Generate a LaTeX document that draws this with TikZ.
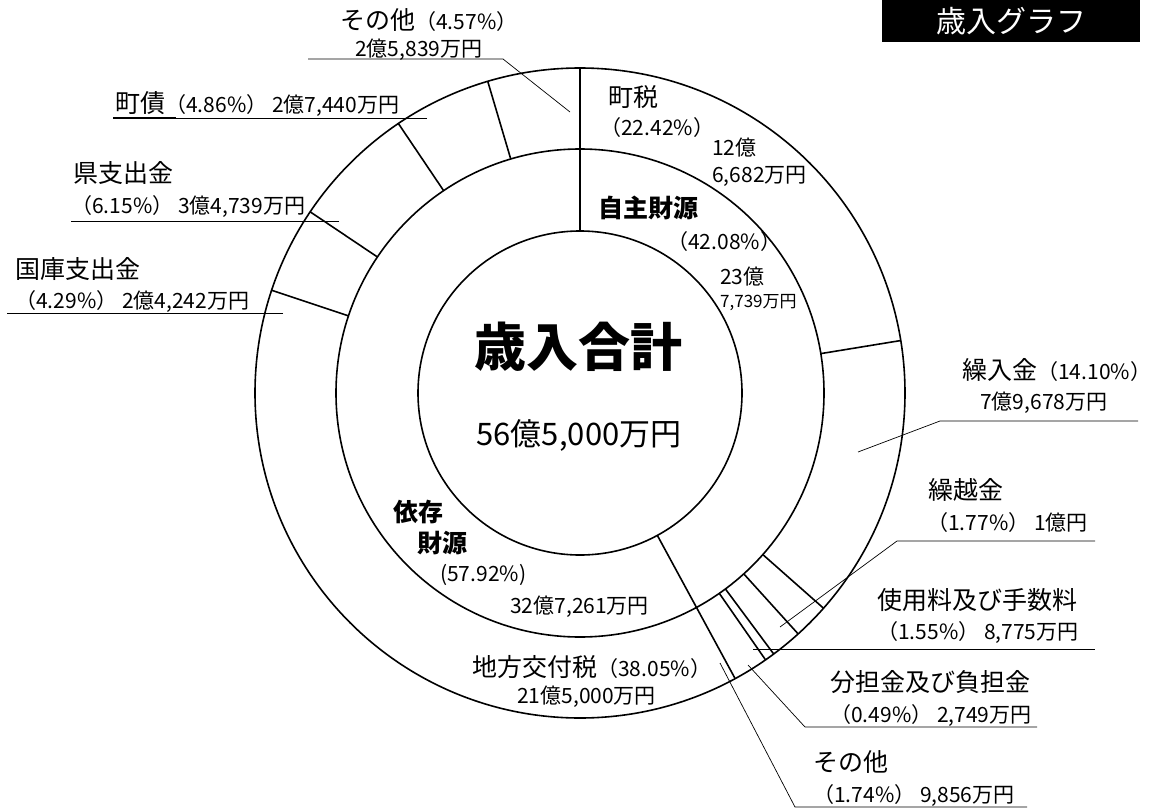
\documentclass[tikz,border=0pt]{standalone}
\usepackage{fontspec}
\setmainfont{Noto Sans CJK JP}
\tikzset{
  ring/.style={line width=1.6pt},
  lead/.style={line width=0.7pt},
  lbl/.style={anchor=west,inner sep=0pt,font=\fontsize{25}{29}\selectfont},
  num/.style={anchor=west,inner sep=0pt,font=\fontsize{21}{25}\selectfont},
}
\begin{document}
\begin{tikzpicture}[x=1pt,y=-1pt]
  \useasboundingbox (0,0) rectangle (1149,811);
  \begin{scope}[shift={(580,393)}]
    \draw[ring] (0,0) circle [radius=162];
    \draw[ring] (0,0) circle [radius=244];
    \draw[ring] (0,0) circle [radius=325];
    \draw[ring] (-90:162)--(-90:325);
    \draw[ring] (61.49:162)--(61.49:325);
    \draw[ring] (-9.29:244)--(-9.29:325);
    \draw[ring] (41.47:244)--(41.47:325);
    \draw[ring] (47.84:244)--(47.84:325);
    \draw[ring] (53.42:244)--(53.42:325);
    \draw[ring] (55.19:244)--(55.19:325);
    \draw[ring] (198.43:244)--(198.43:325);
    \draw[ring] (213.88:244)--(213.88:325);
    \draw[ring] (236.02:244)--(236.02:325);
    \draw[ring] (253.51:244)--(253.51:325);
  \end{scope}
  \node (total) at (578,347) {\fontsize{52}{56}\selectfont\bfseries 歳入合計};
  \node (totalyen) at (579,435) {\fontsize{31}{35}\selectfont 56億5,000万円};
  % title
  \fill (882,-5) rectangle (1140,42);
  \node[text=white] (title) at (1011,21) {\fontsize{30}{34}\selectfont 歳入グラフ};
  % inner ring
  \node[lbl] (jishu) at (598,208) {\bfseries 自主財源};
  \node[num] (jishup) at (667,242) {（42.08\%）};
  \node[num] (jishua) at (720,277) {23億};
  \node[num,font=\fontsize{17}{20}\selectfont] (jishub) at (720,303) {7,739万円};
  \node[lbl] (izon) at (393,512) {\bfseries 依存};
  \node[lbl] (izonb) at (417,543) {\bfseries 財源};
  \node[num] (izonp) at (440,575) {(57.92\%)};
  \node[num] (izona) at (510,607) {32億7,261万円};
  % outer ring
  \node[lbl] (chozei) at (608,97) {町税};
  \node[num] (chozeip) at (600,128) {（22.42\%）};
  \node[num] (chozeia) at (712,148) {12億};
  \node[num] (chozeib) at (712,176) {6,682万円};
  \node[lbl] (koufu) at (472,667) {地方交付税\fontsize{21}{25}\selectfont（38.05\%）};
  \node[num] (koufua) at (517,697) {21億5,000万円};
  \node[lbl] (kuri) at (962,370) {繰入金\fontsize{21}{25}\selectfont（14.10\%）};
  \node[num] (kuria) at (980,403) {7億9,678万円};
  \node[lbl] (kurikosi) at (928,490) {繰越金};
  \node[num] (kurikosia) at (927,523) {（1.77\%） 1億円};
  \node[lbl] (siyo) at (877,600) {使用料及び手数料};
  \node[num] (siyoa) at (877,633) {（1.55\%） 8,775万円};
  \node[lbl] (buntan) at (830,682) {分担金及び負担金};
  \node[num] (buntana) at (830,715) {（0.49\%） 2,749万円};
  \node[lbl] (sonota) at (813,762) {その他};
  \node[num] (sonotaa) at (813,795) {（1.74\%） 9,856万円};
  \node[lbl] (kokko) at (15,269) {国庫支出金};
  \node[num] (kokkoa) at (15,302) {（4.29\%） 2億4,242万円};
  \node[lbl] (ken) at (73,173) {県支出金};
  \node[num] (kena) at (71,207) {（6.15\%） 3億4,739万円};
  \node[lbl] (chosai) at (115,104) {町債\fontsize{21}{25}\selectfont（4.86\%） 2億7,440万円};
  \node[lbl] (sonotb) at (340,20) {その他\fontsize{21}{25}\selectfont（4.57\%）};
  \node[num] (sonotba) at (355,50) {2億5,839万円};
  % leaders
  \draw[lead] (570,112)--(503,59)--(308,59);
  \draw[lead] (427,118)--(113,118);
  \draw[ring] (176,118)--(113,118);
  \draw[lead] (339,221)--(71,221);
  \draw[lead] (283,313)--(7,313);
  \draw[lead] (858,452)--(940,421)--(1138,421);
  \draw[lead] (780,627)--(897,541)--(1095,541);
  \draw[lead] (753,649)--(1095,649);
  \draw[lead] (748,665)--(805,727)--(1037,727);
  \draw[lead] (720,663)--(795,807)--(1027,807);
\end{tikzpicture}
\end{document}
